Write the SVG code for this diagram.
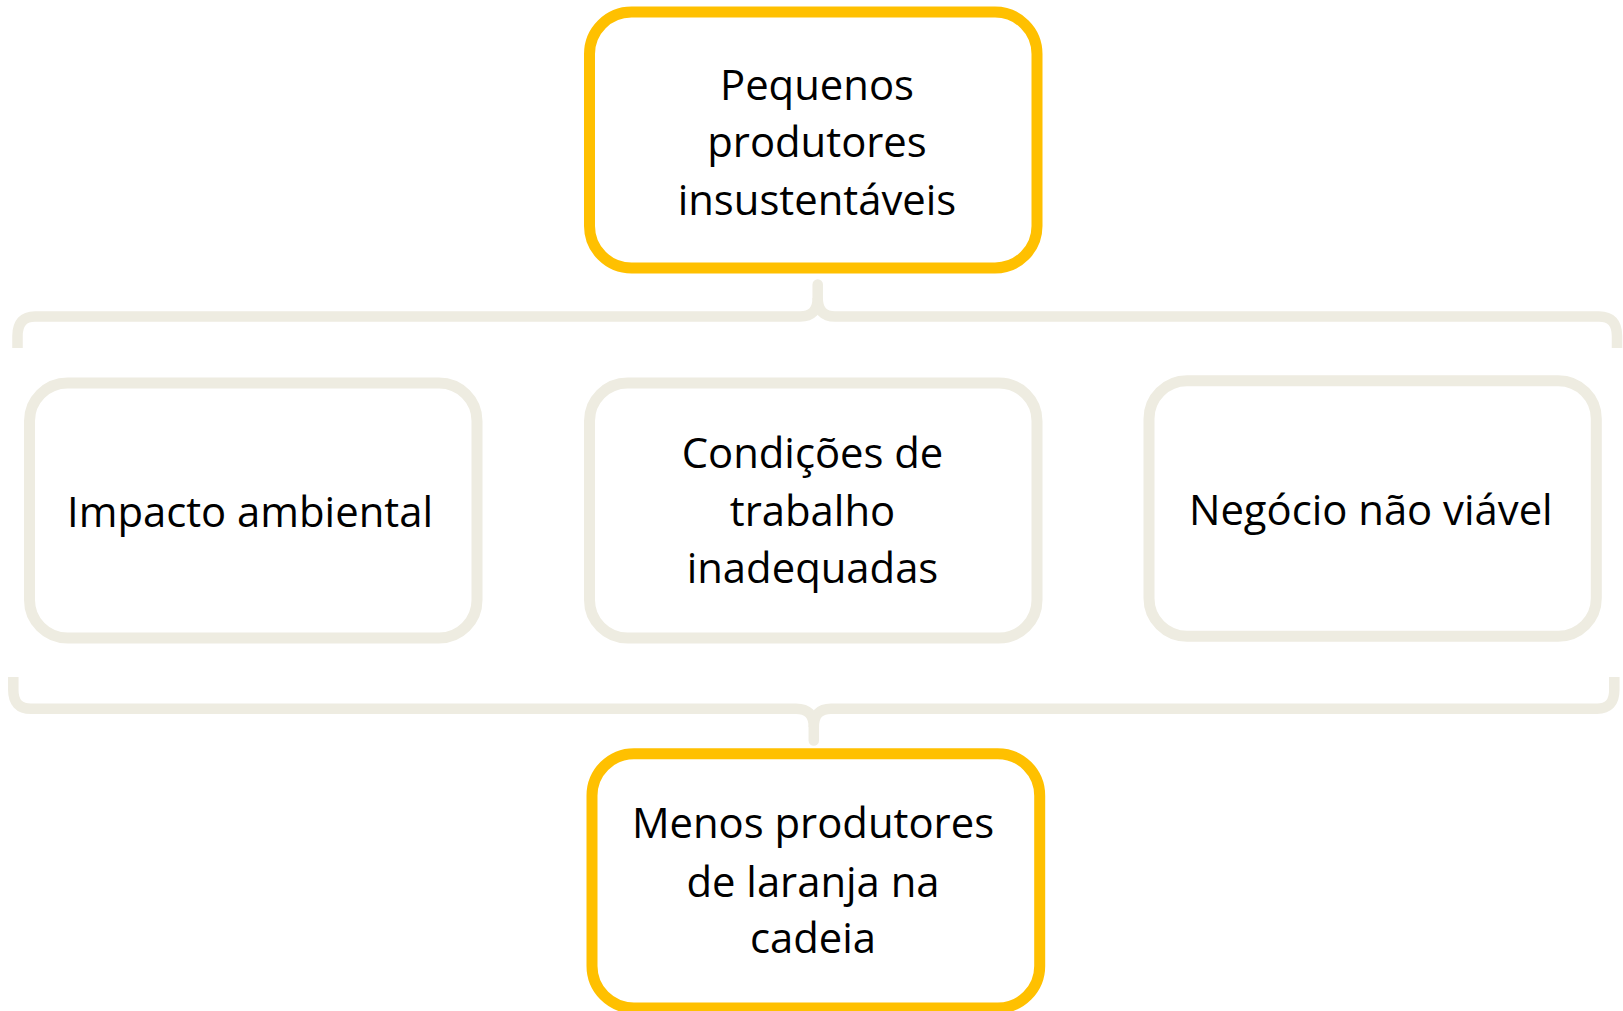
<svg xmlns="http://www.w3.org/2000/svg" width="1623" height="1011" viewBox="0 0 1623 1011">
  <style>
    .hi { fill: #FFFFFF; stroke: #FFC000; stroke-width: 11; }
    .lo { fill: #FFFFFF; stroke: #EEECE1; stroke-width: 11; }
    .brace { fill: none; stroke: #EEECE1; stroke-width: 10.5; stroke-linejoin: round; }
    .tip { fill: none; stroke: #EEECE1; stroke-width: 10.5; stroke-linecap: round; }
    text { font-family: "Open Sans", "Noto Sans", "Liberation Sans", sans-serif; font-size: 41.8px; fill: #000000; text-anchor: middle; }
  </style>
  <rect width="1623" height="1011" fill="#FFFFFF"/>
  <g id="connectors">
    <path class="brace" d="M17.5,348 L17.5,336 Q17.5,316.5 35,316.5 L800,316.5 Q817.7,316.5 817.7,298 M817.7,298 Q817.7,316.5 835,316.5 L1599,316.5 Q1617,316.5 1617,336 L1617,348"/>
    <path class="tip" d="M817.7,284.5 L817.7,299"/>
    <path class="brace" d="M13.3,677 L13.3,690 Q13.3,708.7 31,708.7 L796,708.7 Q813.8,708.7 813.8,727 M813.8,727 Q813.8,708.7 831,708.7 L1597,708.7 Q1614.3,708.7 1614.3,690 L1614.3,677"/>
    <path class="tip" d="M813.8,726 L813.8,740.5"/>
  </g>
  <g id="node-top">
    <rect class="hi" x="589.5" y="12" width="447.5" height="256" rx="42"/>
    <text x="817" y="100">Pequenos</text>
    <text x="817" y="157">produtores</text>
    <text x="817" y="214.5">insustentáveis</text>
  </g>
  <g id="node-impacto">
    <rect class="lo" x="29.5" y="383" width="447.5" height="255" rx="38"/>
    <text x="250" y="526.7">Impacto ambiental</text>
  </g>
  <g id="node-condicoes">
    <rect class="lo" x="589.5" y="383" width="447.5" height="255" rx="38"/>
    <text x="812.5" y="468.3">Condições de</text>
    <text x="812.5" y="526">trabalho</text>
    <text x="812.5" y="582.7">inadequadas</text>
  </g>
  <g id="node-negocio">
    <rect class="lo" x="1149" y="380.7" width="447.3" height="255.6" rx="38"/>
    <text x="1370.8" y="525">Negócio não viável</text>
  </g>
  <g id="node-menos">
    <rect class="hi" x="592" y="753.7" width="447.7" height="254.3" rx="42"/>
    <text x="813" y="838.3">Menos produtores</text>
    <text x="813" y="896.7">de laranja na</text>
    <text x="813" y="953.3">cadeia</text>
  </g>
</svg>
